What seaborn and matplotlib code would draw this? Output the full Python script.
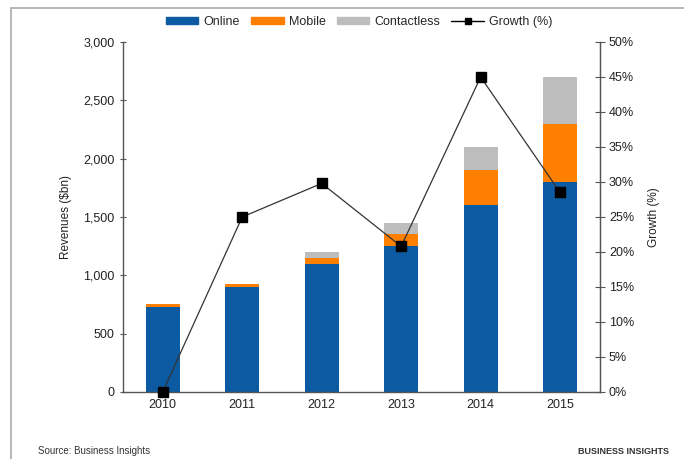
import matplotlib
matplotlib.use('Agg')
import matplotlib.pyplot as plt
import matplotlib.ticker as mtick
from matplotlib.patches import Patch, Rectangle
from matplotlib.lines import Line2D
import pandas as pd
import seaborn as sns

# Data
years = ['2010', '2011', '2012', '2013', '2014', '2015']
online = [730, 900, 1100, 1250, 1600, 1800]
mobile = [20, 25, 50, 100, 300, 500]
contactless = [0, 0, 50, 100, 200, 400]
growth = [0, 25, 29.8, 20.8, 45, 28.5]

c_online = '#0b5aa2'
c_mobile = '#ff8000'
c_contact = '#bdbdbd'

sns.set_style('white')
plt.rcParams['font.family'] = ['Liberation Sans', 'DejaVu Sans']

df = pd.DataFrame({'year': years, 'online': online, 'mobile': mobile,
                   'contactless': contactless, 'growth': growth})
df['om'] = df['online'] + df['mobile']
df['total'] = df['om'] + df['contactless']

fig = plt.figure(figsize=(6.84, 4.59), dpi=100)
ax = fig.add_axes([0.1798, 0.146, 0.6972, 0.7625])

# stacked bars: draw cumulative totals back to front
for col, c in [('total', c_contact), ('om', c_mobile), ('online', c_online)]:
    sns.barplot(data=df, x='year', y=col, color=c, width=0.43,
                saturation=1, linewidth=0, ax=ax)

ax.set_ylim(0, 3000)
ax.set_xlim(-0.5, len(years) - 0.5)
ax.yaxis.set_major_formatter(mtick.FuncFormatter(lambda v, p: f'{int(v):,}'))
ax.set_yticks(range(0, 3001, 500))
ax.set_xlabel('')
ax.set_ylabel('Revenues ($bn)', fontsize=8.5, labelpad=8, color='#222222')
ax.tick_params(axis='y', labelsize=9, length=4, direction='inout', color='#555555',
               pad=4, labelcolor='#222222')
ax.tick_params(axis='x', labelsize=9, length=0, pad=5, labelcolor='#222222')
# x ticks at category boundaries
ax.set_xticks([i + 0.5 for i in range(len(years) - 1)], minor=True)
ax.tick_params(axis='x', which='minor', length=5, direction='out', color='#555555')
ax.spines['top'].set_visible(False)
for s in ['left', 'bottom', 'right']:
    ax.spines[s].set_color('#555555')
    ax.spines[s].set_linewidth(1)

ax2 = ax.twinx()
ax2.plot(range(len(years)), df['growth'], color='#333333', lw=0.9,
         marker='s', markersize=7, markerfacecolor='black', markeredgecolor='black',
         clip_on=False, zorder=5)
ax2.set_ylim(0, 50)
ax2.set_yticks(range(0, 51, 5))
ax2.yaxis.set_major_formatter(mtick.FuncFormatter(lambda v, p: f'{int(v)}%'))
ax2.set_ylabel('Growth (%)', fontsize=8.5, labelpad=10, color='#222222')
ax2.tick_params(axis='y', labelsize=9, length=7, direction='inout', color='#555555',
                pad=3, labelcolor='#222222')
ax2.spines['top'].set_visible(False)
ax2.spines['right'].set_color('#555555')
ax2.spines['left'].set_visible(False)
ax2.spines['bottom'].set_visible(False)

# legend
handles = [Patch(color=c_online, label='Online'),
           Patch(color=c_mobile, label='Mobile'),
           Patch(color=c_contact, label='Contactless'),
           Line2D([0], [0], color='black', lw=1, marker='s', markersize=5,
                  label='Growth (%)')]
fig.legend(handles=handles, loc='center', bbox_to_anchor=(0.525, 0.952), ncol=4,
           frameon=False, fontsize=9, handlelength=2.6, handleheight=0.5,
           columnspacing=0.9, handletextpad=0.4)

# outer frame
fig.patches.append(Rectangle((0.016, -0.01), 1.0, 0.993, transform=fig.transFigure,
                             fill=False, edgecolor='#aaaaaa', lw=1.2))

fig.text(0.055, 0.01, 'Source: Business Insights', fontsize=7, color='#333333')
fig.text(0.845, 0.01, 'BUSINESS INSIGHTS', fontsize=6.5, weight='bold', color='#333333')

fig.savefig('out.png', dpi=100)
